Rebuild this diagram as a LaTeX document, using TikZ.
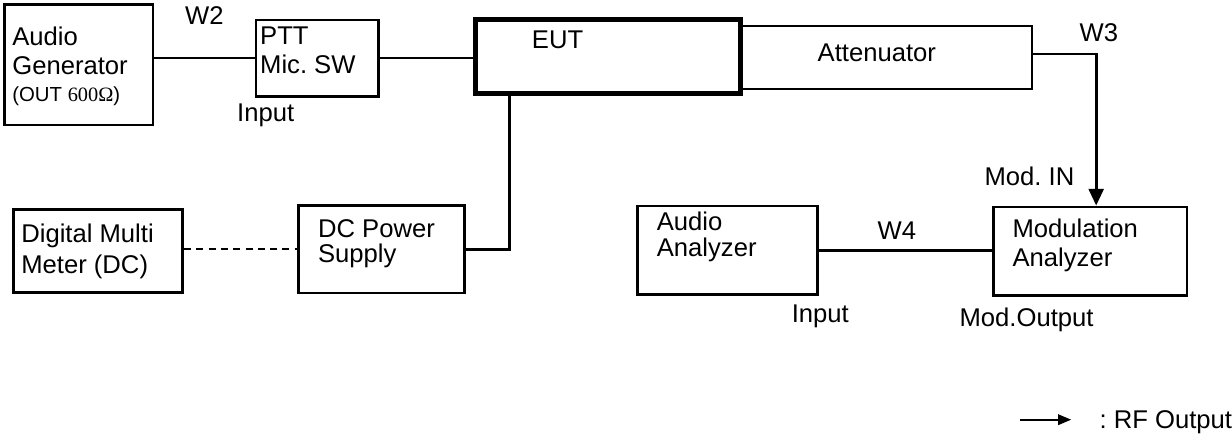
\documentclass[tikz,border=0pt]{standalone}
\usepackage{fontspec}
\setmainfont{Liberation Sans}
\newfontfamily\timesfont{Liberation Serif}
\usetikzlibrary{arrows.meta}

\tikzset{
  unit/.style={draw, line width=1.5pt, inner sep=0pt},
  lbl/.style={anchor=base west, inner sep=0pt, font=\fontsize{14.6}{17}\selectfont\frenchspacing},
  wire/.style={line width=1.5pt},
  rf/.style={wire, -{Triangle[width=8.5pt,length=9.5pt]}},
}

\begin{document}
\begin{tikzpicture}[x=0.02cm,y=-0.02cm]
      % \draw[help lines](0,0) grid (1232,440);

      % Bounding box
      \path (0,0) rectangle (1232,440);

      % upper row
      \draw (78.7,64.7) node[unit, minimum width=2.97cm, minimum height=2.41cm] (agen) {};
      \draw (317.5,58.2) node[unit, minimum width=2.46cm, minimum height=1.53cm] (ptt) {};
      \draw (887,57.5) node[unit, line width=1.1pt, minimum width=5.84cm, minimum height=1.26cm] (att) {};
      \draw (608.5,57) node[unit, line width=2.85pt, minimum width=5.3cm, minimum height=1.48cm] (eut) {};

      % lower row
      \draw (98.2,251.2) node[unit, minimum width=3.39cm, minimum height=1.67cm] (dmm) {};
      \draw (381.7,249.4) node[unit, minimum width=3.32cm, minimum height=1.75cm] (dcps) {};
      \draw (728,250.5) node[unit, minimum width=3.6cm, minimum height=1.78cm] (aana) {};
      \draw (1091,251.5) node[unit, minimum width=3.88cm, minimum height=1.78cm] (mana) {};

      % texts
      \draw (12,46) node[lbl] (agen1) {Audio};
      \draw (12,75) node[lbl] (agen2) {Generator};
      \draw (12,102) node[lbl, font=\fontsize{11.6}{13}\selectfont] (agen3) {(OUT {\timesfont 600Ω})};
      \draw (185,25) node[lbl] (w2) {W2};
      \draw (260,45) node[lbl] (ptt1) {PTT};
      \draw (260,74) node[lbl] (ptt2) {Mic. SW};
      \draw (237,122) node[lbl] (pttin) {Input};
      \draw (532,49) node[lbl] (eut1) {EUT};
      \draw (818,62) node[lbl] (att1) {Attenuator};
      \draw (1080,42) node[lbl] (w3) {W3};
      \draw (985,186) node[lbl] (modin) {Mod. IN};
      \draw (21,243) node[lbl] (dmm1) {Digital Multi};
      \draw (21,274) node[lbl] (dmm2) {Meter (DC)};
      \draw (318,238) node[lbl] (dcps1) {DC Power};
      \draw (318,263) node[lbl] (dcps2) {Supply};
      \draw (657,231) node[lbl] (aana1) {Audio};
      \draw (657,257) node[lbl] (aana2) {Analyzer};
      \draw (878,240) node[lbl] (w4) {W4};
      \draw (792,323) node[lbl] (aanain) {Input};
      \draw (1013,238) node[lbl] (mana1) {Modulation};
      \draw (1013,267) node[lbl] (mana2) {Analyzer};
      \draw (960,327) node[lbl] (manaout) {Mod.Output};

      % wires
      \coordinate (w3c) at (1097,54);
      \coordinate (dcc) at (510,0);
      \draw [wire] (ptt.west -| agen.east) -- (ptt.west);
      \draw [wire] (ptt.east) -- (ptt.east -| eut.west);
      \draw [rf] (att.east |- w3c) -- (w3c) -- (w3c |- mana.north);
      \draw [wire] (eut.south -| dcc) |- (dcps.east);
      \draw [wire, line width=1.1pt, dash pattern=on 4pt off 3pt] (dcps.west -| dmm.east) -- (dcps.west);
      \draw [wire] (aana.east) -- (aana.east -| mana.west);

      % legend
      \coordinate (lgs) at (1021,420);
      \coordinate (lge) at (1072,420);
      \draw [wire, line width=1.1pt, -{Triangle[width=6pt,length=7.5pt]}] (lgs) -- (lge);
      \draw (1100,429) node[lbl] (lgtxt) {: RF Output};
    \end{tikzpicture}
\end{document}
